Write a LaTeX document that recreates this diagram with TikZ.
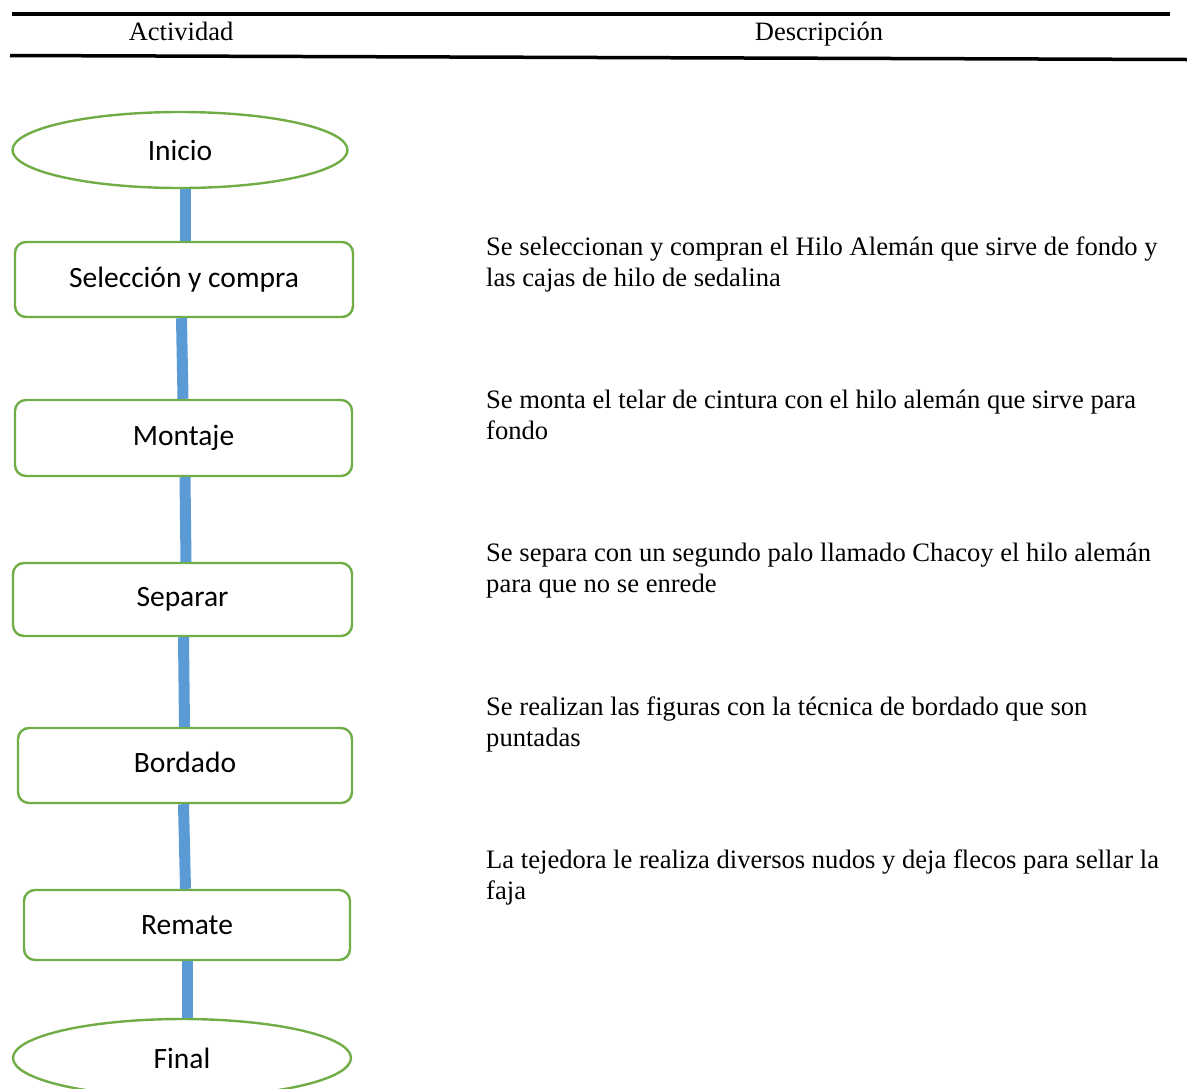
\documentclass[tikz,border=0pt]{standalone}
\usepackage{fontspec}
\setmainfont{Liberation Serif}
\newfontfamily\calib{Carlito}
\usetikzlibrary{shapes.geometric,calc}
\definecolor{boxgreen}{HTML}{70AD47}
\definecolor{linkblue}{HTML}{5B9BD5}
\tikzset{
  flowbox/.style={draw=boxgreen, line width=2.4pt, rounded corners=11pt, inner sep=0pt, font=\calib\fontsize{29.5}{34}\selectfont},
  flowend/.style={ellipse, draw=boxgreen, line width=2.4pt, inner sep=0pt, font=\calib\fontsize{29.5}{34}\selectfont},
  link/.style={draw=linkblue, line width=11pt},
  desc/.style={anchor=base west, align=left, inner sep=0pt, font=\fontsize{26.6}{31}\selectfont},
  head/.style={anchor=base, inner sep=0pt, font=\fontsize{26.5}{30}\selectfont},
  rule/.style={line width=3.5pt, black}
}
\begin{document}
\begin{tikzpicture}[x=1pt, y=-1pt]
\useasboundingbox (0,0) rectangle (1187,1088);
\clip (0,0) rectangle (1187,1088);
% header
\coordinate (r1a) at (12,14);
\coordinate (r1b) at (1170,14);
\coordinate (r2a) at (10,55.5);
\coordinate (r2b) at (1187,59.5);
\draw[rule] (r1a) -- (r1b);
\draw[rule] (r2a) -- (r2b);
\node[head] (hact) at (181,40) {Actividad};
\node[head] (hdes) at (819,40) {Descripción};
% flow nodes
\node[flowend, minimum width=335pt, minimum height=76pt] (inicio) at (180,150) {\raisebox{-8pt}{Inicio}};
\node[flowbox, minimum width=338pt, minimum height=75pt] (sel) at (184,279.5) {\raisebox{1pt}{Selección y compra}};
\node[flowbox, minimum width=337pt, minimum height=76pt] (mon) at (183.5,438) {\raisebox{4pt}{Montaje}};
\node[flowbox, minimum width=339pt, minimum height=73pt] (sep) at (182.5,599.5) {Separar};
\node[flowbox, minimum width=334pt, minimum height=75pt] (bor) at (185,765.5) {\raisebox{6pt}{Bordado}};
\node[flowbox, minimum width=326pt, minimum height=70pt] (rem) at (187,925) {Remate};
\node[flowend, minimum width=338pt, minimum height=78pt] (fin) at (182,1058) {\raisebox{-6pt}{Final}};
% connectors
\draw[link] ([xshift=5pt]inicio.south) -- ([xshift=1pt]sel.north);
\draw[link] ([xshift=-2.5pt]sel.south) -- ([xshift=-0.5pt]mon.north);
\draw[link] ([xshift=1.5pt]mon.south) -- ([xshift=3.5pt]sep.north);
\draw[link] ([xshift=1pt]sep.south) -- ([xshift=-0.5pt]bor.north);
\draw[link] ([xshift=-1.5pt]bor.south) -- ([xshift=-1.5pt]rem.north);
\draw[link] (rem.south) -- ([xshift=5pt]fin.north);
% descriptions
\node[desc] (d1) at (486,286) {Se seleccionan y compran el Hilo Alemán que sirve de fondo y\\las cajas de hilo de sedalina};
\node[desc] (d2) at (486,439) {Se monta el telar de cintura con el hilo alemán que sirve para\\fondo};
\node[desc] (d3) at (486,592) {Se separa con un segundo palo llamado Chacoy el hilo alemán\\para que no se enrede};
\node[desc] (d4) at (486,746) {Se realizan las figuras con la técnica de bordado que son\\puntadas};
\node[desc] (d5) at (486,899) {La tejedora le realiza diversos nudos y deja flecos para sellar la\\faja};
\end{tikzpicture}
\end{document}
